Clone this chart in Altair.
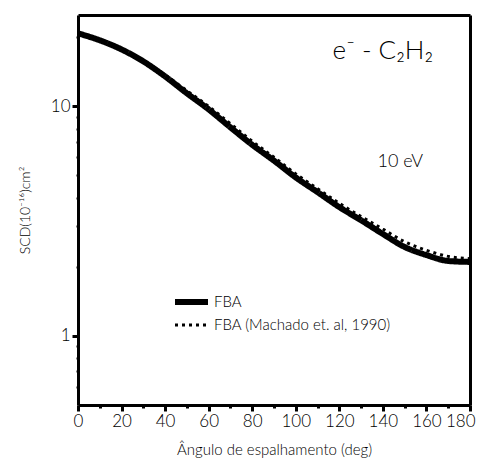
import altair as alt
import pandas as pd

# ---- data ----
angles = [0, 10, 20, 30, 40, 50, 60, 70, 80, 90, 100, 110, 120, 130, 140, 150, 160, 170, 180]
fba = [20.8, 19.4, 17.7, 15.7, 13.5, 11.4, 9.7, 8.1, 6.8, 5.8, 4.9, 4.23, 3.64, 3.19, 2.78, 2.44, 2.25, 2.12, 2.10]
machado = [20.8, 19.4, 17.7, 15.8, 13.7, 11.7, 10.0, 8.4, 7.05, 6.0, 5.08, 4.38, 3.78, 3.31, 2.92, 2.57, 2.36, 2.22, 2.17]
series_names = ["FBA", "FBA (Machado et. al, 1990)"]

x_ticks = [0, 10, 20, 30, 40, 50, 60, 70, 80, 90, 100, 110, 120, 130, 140, 150, 160, 170, 180]
y_ticks = [0.6, 0.7, 0.8, 0.9, 1, 2, 3, 4, 5, 6, 7, 8, 9, 10, 20]

ann_text = ["e⁻ - C₂H₂", "10 eV"]
ann_x = [140, 148]
ann_y = [17.5, 5.7]
ann_size = [26, 18]

FONT = "Lato"

rows = []
for a, v in zip(angles, fba):
    rows.append({"angle": a, "scd": v, "series": series_names[0]})
for a, v in zip(angles, machado):
    rows.append({"angle": a, "scd": v, "series": series_names[1]})
df = pd.DataFrame(rows)

ann = pd.DataFrame({"angle": ann_x, "scd": ann_y, "label": ann_text, "size": ann_size})

xscale = alt.Scale(domain=[0, 180], nice=False, zero=False)
yscale = alt.Scale(type="log", domain=[0.5, 25], nice=False)

leg = alt.Legend(title=None, orient="none", legendX=94, legendY=278,
                 symbolType="stroke", symbolSize=1089, symbolStrokeColor="black",
                 clipHeight=18, rowPadding=5, padding=0, labelOffset=3, labelLimit=0,
                 labelFont=FONT, labelFontSize=15, labelFontWeight=300, labelColor="black")

lines = alt.Chart(df).mark_line(color="black", strokeCap="butt", interpolate="monotone").encode(
    x=alt.X("angle:Q", scale=xscale,
            axis=alt.Axis(values=x_ticks, title="Ângulo de espalhamento (deg)", orient="bottom",
                          labelExpr="datum.value % 20 == 0 ? datum.label : ''",
                          labelOverlap=False, labelFlush=True, labelFlushOffset=5,
                          tickSize={"condition": {"test": "datum.value % 20 != 0", "value": 3}, "value": 6},
                          tickWidth=3, tickColor="black",
                          domain=True, domainColor="black", domainWidth=3, grid=False,
                          labelFont=FONT, labelFontSize=17, labelFontWeight=300, labelColor="black",
                          labelPadding=2, titleFont=FONT, titleFontSize=15, titleFontWeight=300,
                          titleColor="black", titlePadding=13)),
    y=alt.Y("scd:Q", scale=yscale,
            axis=alt.Axis(values=y_ticks, title="SCD(10⁻¹⁶)cm²", orient="left",
                          labelExpr="(datum.value == 1 || datum.value == 10) ? datum.label : ''",
                          labelOverlap=False, labelFlush=False,
                          tickSize={"condition": {"test": "datum.value == 1 || datum.value == 10", "value": 6}, "value": 2},
                          tickWidth={"condition": {"test": "datum.value == 1 || datum.value == 10", "value": 3}, "value": 2},
                          tickColor="black",
                          domain=True, domainColor="black", domainWidth=3, grid=False,
                          labelFont=FONT, labelFontSize=17, labelFontWeight=300, labelColor="black",
                          labelPadding=2, titleFont=FONT, titleFontSize=14, titleFontWeight=300,
                          titleColor="black", titlePadding=18)),
    strokeDash=alt.StrokeDash("series:N",
                              scale=alt.Scale(domain=series_names, range=[[1, 0], [3, 4]]),
                              legend=leg),
    strokeWidth=alt.StrokeWidth("series:N",
                                scale=alt.Scale(domain=series_names, range=[6, 3]),
                                legend=leg),
)

# frame on the top and right sides (axis lines only)
frame = alt.Chart(df).mark_point(opacity=0).encode(
    x=alt.X("angle:Q", scale=xscale,
            axis=alt.Axis(orient="top", ticks=False, labels=False, title=None, grid=False,
                          domain=True, domainColor="black", domainWidth=3)),
    y=alt.Y("scd:Q", scale=yscale,
            axis=alt.Axis(orient="right", ticks=False, labels=False, title=None, grid=False,
                          domain=True, domainColor="black", domainWidth=3)),
)

texts = alt.Chart(ann).mark_text(font=FONT, fontWeight=300, color="black").encode(
    x=alt.X("angle:Q", scale=xscale, axis=None),
    y=alt.Y("scd:Q", scale=yscale, axis=None),
    text="label:N",
    size=alt.Size("size:Q", scale=None, legend=None),
)

chart = alt.layer(lines, frame, texts).resolve_axis(x="independent", y="independent").properties(
    width=392, height=390,
    autosize=alt.AutoSizeParams(type="none"),
    padding={"left": 70, "top": 7, "right": 9, "bottom": 57},
    background="white",
).configure_view(stroke=None)

chart.save("out.html", embed_options={"renderer": "svg", "actions": False})
